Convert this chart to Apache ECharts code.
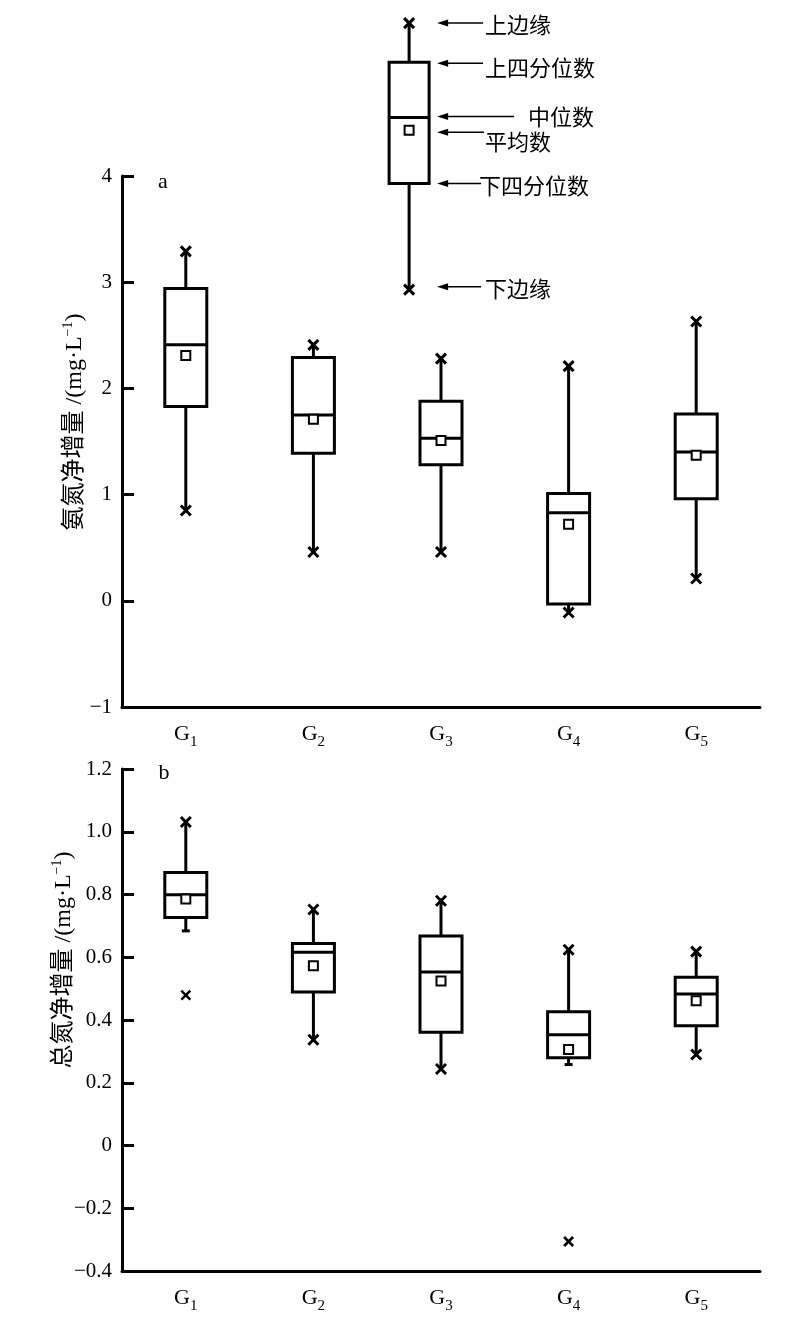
<!DOCTYPE html>
<html>
<head>
<meta charset="utf-8">
<script src="https://cdn.jsdelivr.net/npm/echarts@6/dist/echarts.min.js"></script>
<style>
html,body{margin:0;padding:0;background:#fff;}
#main{width:800px;height:1325px;}
</style>
</head>
<body>
<div id="main"></div>
<script>
// ---------- data ----------
const categories = ['G1', 'G2', 'G3', 'G4', 'G5'];

// panel a: 氨氮净增量
const aLow    = [0.85, 0.46, 0.46, -0.11, 0.21];
const aQ1     = [1.83, 1.39, 1.28, -0.03, 0.96];
const aMedian = [2.41, 1.75, 1.53, 0.83, 1.40];
const aMean   = [2.31, 1.71, 1.51, 0.72, 1.37];
const aQ3     = [2.94, 2.29, 1.88, 1.01, 1.76];
const aHigh   = [3.29, 2.41, 2.28, 2.21, 2.63];
const aLowMark  = ['x', 'x', 'x', 'x', 'x'];
const aHighMark = ['x', 'x', 'x', 'x', 'x'];

// panel b: 总氮净增量
const bLow    = [0.684, 0.337, 0.244, 0.258, 0.290];
const bQ1     = [0.727, 0.489, 0.361, 0.280, 0.382];
const bMedian = [0.799, 0.616, 0.553, 0.353, 0.483];
const bMean   = [0.786, 0.573, 0.524, 0.306, 0.461];
const bQ3     = [0.870, 0.644, 0.668, 0.426, 0.536];
const bHigh   = [1.031, 0.752, 0.780, 0.624, 0.618];
const bLowMark  = ['cap', 'x', 'x', 'cap', 'x'];
const bHighMark = ['x', 'x', 'x', 'x', 'x'];
const bOutliers = [[1, 0.479], [4, -0.306]];

// illustrative legend box (drawn in panel a coordinates): [x, low, q1, median, mean, q3, high]
const legendBox = [2.75, 2.93, 3.93, 4.55, 4.43, 5.07, 5.44];
const legendLabels = ['上边缘', '上四分位数', '中位数', '平均数', '下四分位数', '下边缘'];

// axis titles / panel labels
const aYTitle = ['氨氮净增量 /(mg·L', '−1', ')'];
const bYTitle = ['总氮净增量 /(mg·L', '−1', ')'];
const panelLabels = ['a', 'b'];

// ---------- helpers ----------
const SERIF = '"Liberation Serif", "Noto Sans CJK SC", serif';
const markCode = {x: 0, cap: 1, none: 2};

function buildBoxData(low, q1, med, mean, q3, high, lowMark, highMark) {
  return categories.map((c, i) => [i + 1, low[i], q1[i], med[i], mean[i], q3[i], high[i],
    markCode[lowMark[i]], markCode[highMark[i]]]);
}

function crossMark(p, s, lw) {
  return [
    {type: 'line', shape: {x1: p[0] - s, y1: p[1] - s, x2: p[0] + s, y2: p[1] + s}, style: {stroke: '#000', lineWidth: lw}},
    {type: 'line', shape: {x1: p[0] - s, y1: p[1] + s, x2: p[0] + s, y2: p[1] - s}, style: {stroke: '#000', lineWidth: lw}}
  ];
}
function endMark(code, p) {
  if (code === 0) return crossMark(p, 5, 3);
  if (code === 1) return [{type: 'line', shape: {x1: p[0] - 4, y1: p[1], x2: p[0] + 4, y2: p[1]}, style: {stroke: '#000', lineWidth: 3}}];
  return [];
}

function drawBox(api, vals, half) {
  const x = vals[0];
  const pLow = api.coord([x, vals[1]]);
  const pQ1 = api.coord([x, vals[2]]);
  const pMed = api.coord([x, vals[3]]);
  const pMean = api.coord([x, vals[4]]);
  const pQ3 = api.coord([x, vals[5]]);
  const pHigh = api.coord([x, vals[6]]);
  const cx = pMed[0];
  const lw = 3;
  const children = [
    {type: 'line', shape: {x1: cx, y1: pHigh[1], x2: cx, y2: pQ3[1]}, style: {stroke: '#000', lineWidth: lw}},
    {type: 'line', shape: {x1: cx, y1: pQ1[1], x2: cx, y2: pLow[1]}, style: {stroke: '#000', lineWidth: lw}},
    {type: 'rect', shape: {x: cx - half, y: pQ3[1], width: 2 * half, height: pQ1[1] - pQ3[1]},
      style: {fill: '#fff', stroke: '#000', lineWidth: lw}},
    {type: 'line', shape: {x1: cx - half, y1: pMed[1], x2: cx + half, y2: pMed[1]}, style: {stroke: '#000', lineWidth: lw}},
    {type: 'rect', shape: {x: cx - 4.5, y: pMean[1] - 4.5, width: 9, height: 9},
      style: {fill: '#fff', stroke: '#000', lineWidth: 2}}
  ];
  return {children, pLow, pHigh, cx, pQ1, pQ3, pMed, pMean};
}

function renderBox(params, api) {
  const vals = [api.value(0), api.value(1), api.value(2), api.value(3), api.value(4), api.value(5), api.value(6)];
  const r = drawBox(api, vals, 21);
  const ch = r.children.concat(endMark(api.value(7), r.pLow)).concat(endMark(api.value(8), r.pHigh));
  return {type: 'group', children: ch};
}

function renderOutlier(params, api) {
  const p = api.coord([api.value(0), api.value(1)]);
  return {type: 'group', children: crossMark(p, 4.5, 2.5)};
}

function renderLegend(params, api) {
  const vals = [api.value(0), api.value(1), api.value(2), api.value(3), api.value(4), api.value(5), api.value(6)];
  const r = drawBox(api, vals, 20);
  const ch = r.children.concat(endMark(0, r.pLow)).concat(endMark(0, r.pHigh));
  const tipX = r.cx + 28;
  // [y, arrow tail offset, text offset, text y offset, label]
  const items = [
    [r.pHigh[1], 46, 48, 2, legendLabels[0]],
    [r.pQ3[1] + 1, 46, 48, 4, legendLabels[1]],
    [r.pMed[1] - 1, 77, 91, 0, legendLabels[2]],
    [r.pMean[1] + 2, 47, 48, 9, legendLabels[3]],
    [r.pQ1[1], 44, 42, 2, legendLabels[4]],
    [r.pLow[1] - 3, 44, 48, 2, legendLabels[5]]
  ];
  items.forEach(it => {
    const y = it[0];
    ch.push({type: 'line', shape: {x1: tipX + 4, y1: y, x2: tipX + it[1], y2: y}, style: {stroke: '#000', lineWidth: 1.5}});
    ch.push({type: 'polygon', shape: {points: [[tipX, y], [tipX + 11, y - 3.5], [tipX + 11, y + 3.5]]}, style: {fill: '#000'}});
    ch.push({type: 'text', x: tipX + it[2], y: y + it[3],
      style: {text: it[4], fill: '#000', font: '22px "Noto Sans CJK SC"', align: 'left', verticalAlign: 'middle'}});
  });
  return {type: 'group', children: ch};
}

function catLabel(v) {
  return '{g|G}{s|' + v.slice(1) + '}';
}
const catRich = {
  g: {fontSize: 22, fontFamily: SERIF, color: '#000', lineHeight: 28, verticalAlign: 'bottom'},
  s: {fontSize: 15, fontFamily: SERIF, color: '#000', lineHeight: 28, verticalAlign: 'bottom', padding: [0, 0, -5, 0]}
};

function makeCatAxis(gridIndex, tickLen) {
  return {
    type: 'category', gridIndex, data: categories, boundaryGap: true,
    axisLine: {onZero: false, lineStyle: {color: '#000', width: 3}},
    axisTick: {inside: true, length: tickLen, alignWithLabel: true, lineStyle: {color: '#000', width: 3}},
    axisLabel: {formatter: catLabel, rich: catRich, margin: 10},
    splitLine: {show: false}
  };
}
function makeValXAxis(gridIndex) {
  return {type: 'value', gridIndex, min: 0.5, max: 5.5, show: false, splitLine: {show: false}};
}
function minusFmt(v, digits) {
  if (Math.abs(v) < 1e-9) return '0';
  const s = Math.abs(v).toFixed(digits);
  return v < 0 ? '−' + s : s;
}
function makeYAxis(gridIndex, min, max, interval, digits) {
  return {
    type: 'value', gridIndex, min, max, interval,
    axisLine: {show: true, onZero: false, lineStyle: {color: '#000', width: 3}},
    axisTick: {show: true, inside: true, length: 12, lineStyle: {color: '#000', width: 3}},
    axisLabel: {color: '#000', fontSize: 21, fontFamily: SERIF, margin: 10,
      formatter: v => minusFmt(v, digits)},
    splitLine: {show: false}
  };
}

function yTitle(parts, x, y) {
  return {
    type: 'text', x, y, rotation: Math.PI / 2,
    style: {
      text: '{t|' + parts[0] + '}{sup|' + parts[1] + '}{t|' + parts[2] + '}',
      align: 'center', verticalAlign: 'middle',
      rich: {
        t: {fontSize: 24, fontFamily: SERIF, fill: '#000', lineHeight: 30, verticalAlign: 'bottom'},
        sup: {fontSize: 14, fontFamily: SERIF, fill: '#000', lineHeight: 30, verticalAlign: 'bottom', padding: [0, 0, 12, 0]}
      }
    }
  };
}

const chart = echarts.init(document.getElementById('main'), null, {renderer: 'canvas'});
chart.setOption({
  backgroundColor: '#fff',
  animation: false,
  grid: [
    {left: 122, right: 40, top: 176, bottom: 618},
    {left: 122, right: 40, top: 769, bottom: 54}
  ],
  xAxis: [makeCatAxis(0, 20), makeValXAxis(0), makeCatAxis(1, 13), makeValXAxis(1)],
  yAxis: [makeYAxis(0, -1, 4, 1, 0), makeYAxis(1, -0.4, 1.2, 0.2, 1)],
  graphic: [
    yTitle(aYTitle, 72, 422),
    yTitle(bYTitle, 61, 960),
    {type: 'text', x: 163, y: 182, style: {text: panelLabels[0], font: '22px "Liberation Serif"', fill: '#000', align: 'center', verticalAlign: 'middle'}},
    {type: 'text', x: 164, y: 773, style: {text: panelLabels[1], font: '22px "Liberation Serif"', fill: '#000', align: 'center', verticalAlign: 'middle'}}
  ],
  series: [
    {type: 'custom', xAxisIndex: 1, yAxisIndex: 0, renderItem: renderBox, clip: false,
      data: buildBoxData(aLow, aQ1, aMedian, aMean, aQ3, aHigh, aLowMark, aHighMark)},
    {type: 'custom', xAxisIndex: 1, yAxisIndex: 0, renderItem: renderLegend, clip: false,
      data: [legendBox]},
    {type: 'custom', xAxisIndex: 3, yAxisIndex: 1, renderItem: renderBox, clip: false,
      data: buildBoxData(bLow, bQ1, bMedian, bMean, bQ3, bHigh, bLowMark, bHighMark)},
    {type: 'custom', xAxisIndex: 3, yAxisIndex: 1, renderItem: renderOutlier, clip: false,
      data: bOutliers}
  ]
});
</script>
</body>
</html>
